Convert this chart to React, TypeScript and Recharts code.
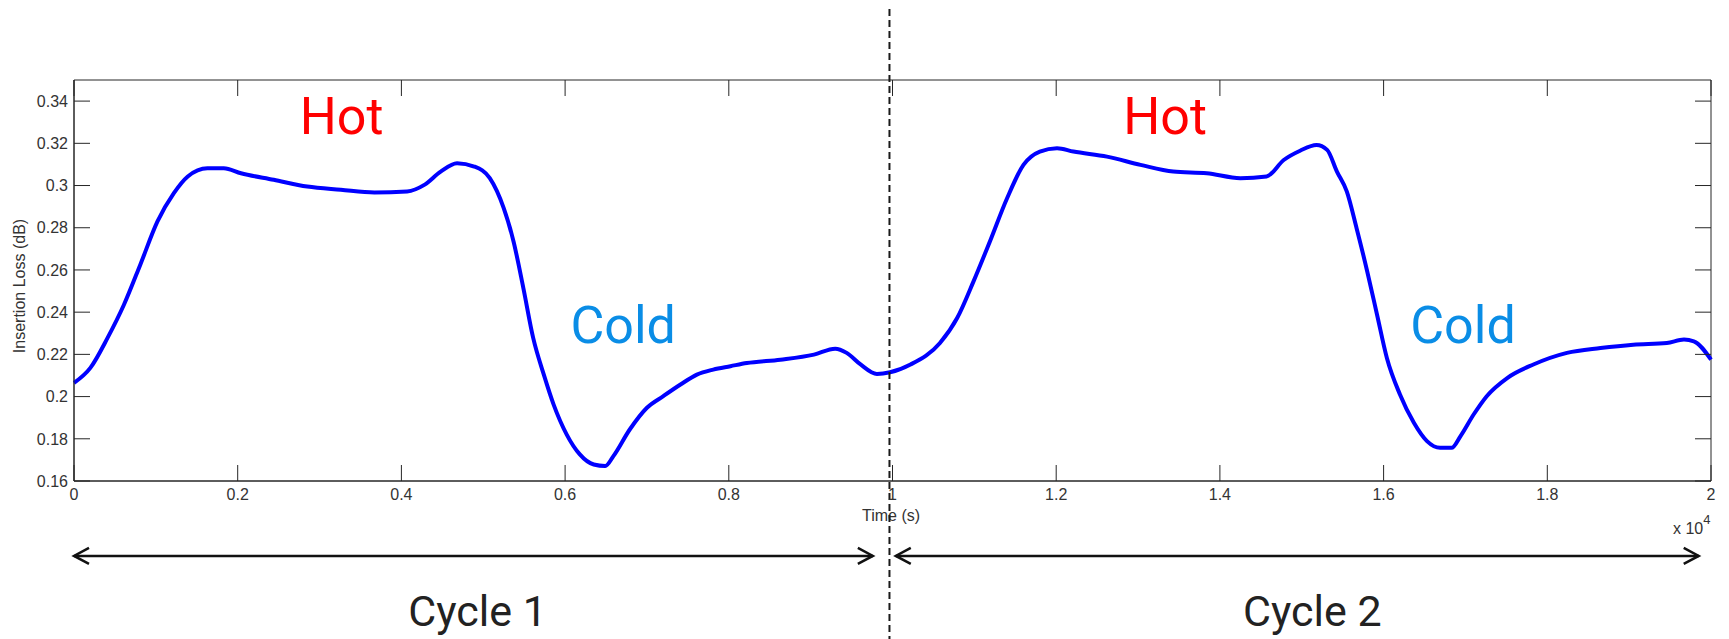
import React from "react";
import {
  LineChart,
  Line,
  XAxis,
  YAxis,
  ReferenceLine,
  ReferenceArea,
  ReferenceDot,
} from "recharts";

// time in units of 10^4 s
const timeE4 = [
  0, 0.02, 0.041, 0.061, 0.081, 0.102, 0.122, 0.139, 0.163, 0.183,
  0.204, 0.244, 0.285, 0.326, 0.367, 0.407, 0.428, 0.448, 0.468, 0.489,
  0.508, 0.525, 0.537, 0.549, 0.561, 0.574, 0.586, 0.602, 0.618, 0.635,
  0.649, 0.659, 0.679, 0.7, 0.72, 0.741, 0.761, 0.781, 0.802, 0.822,
  0.863, 0.904, 0.93, 0.944, 0.961, 0.981, 0.997, 1.022, 1.058, 1.079,
  1.099, 1.119, 1.14, 1.16, 1.18, 1.201, 1.221, 1.262, 1.303, 1.343,
  1.384, 1.425, 1.457, 1.478, 1.498, 1.518, 1.531, 1.543, 1.555, 1.567,
  1.58, 1.592, 1.604, 1.62, 1.637, 1.653, 1.669, 1.683, 1.694, 1.71,
  1.726, 1.751, 1.783, 1.824, 1.865, 1.905, 1.946, 1.967, 1.979, 2.0,
];

// insertion loss in dB
const lossDb = [
  0.2065, 0.2136, 0.2278, 0.2435, 0.2625, 0.283, 0.2964, 0.3043, 0.3082, 0.3082,
  0.3058, 0.3027, 0.2995, 0.298, 0.2967, 0.2972, 0.3003, 0.3066, 0.3106, 0.309,
  0.3035, 0.2893, 0.2735, 0.2514, 0.2278, 0.2104, 0.1962, 0.182, 0.1726, 0.1678,
  0.1671, 0.1718, 0.1844, 0.1947, 0.2002, 0.2057, 0.2104, 0.2128, 0.2144, 0.2159,
  0.2175, 0.2199, 0.2227, 0.2207, 0.2152, 0.2107, 0.2115, 0.2152, 0.2254, 0.2372,
  0.2546, 0.2735, 0.294, 0.3098, 0.3161, 0.3177, 0.3161, 0.3137, 0.3098, 0.3066,
  0.3058, 0.3035, 0.3043, 0.3121, 0.3165, 0.3192, 0.3169, 0.3066, 0.2972, 0.2798,
  0.2593, 0.2388, 0.2183, 0.201, 0.1876, 0.1789, 0.1757, 0.1757, 0.1813, 0.1915,
  0.2002, 0.2088, 0.2152, 0.2207, 0.223, 0.2246, 0.2254, 0.227, 0.2262, 0.2175,
];

const xTicks = [0, 0.2, 0.4, 0.6, 0.8, 1, 1.2, 1.4, 1.6, 1.8, 2];
const yTicks = [0.16, 0.18, 0.2, 0.22, 0.24, 0.26, 0.28, 0.3, 0.32, 0.34];

const cycleBoundary = 0.9963;
const cycleArrows = [
  { from: 0.0, to: 0.976 },
  { from: 1.004, to: 1.985 },
];
const arrowLevel = 0.1245;

const annotations = [
  { text: "Hot", t: 0.327, v: 0.3245, color: "#ff0000", size: 52 },
  { text: "Hot", t: 1.333, v: 0.3245, color: "#ff0000", size: 52 },
  { text: "Cold", t: 0.671, v: 0.2254, color: "#0a8de6", size: 52 },
  { text: "Cold", t: 1.697, v: 0.2254, color: "#0a8de6", size: 52 },
  { text: "Cycle 1", t: 0.493, v: 0.0913, color: "#222222", size: 43 },
  { text: "Cycle 2", t: 1.513, v: 0.0913, color: "#222222", size: 43 },
];

const data = timeE4.map((t, i) => ({ t, loss: lossDb[i] }));

const W = 1729;
const H = 639;
const PLOT = { left: 74, right: 1711, top: 80, bottom: 481 };
const TICK_LEN = 16;
const AXIS_COLOR = "#262626";
const TICK_FONT = "'Liberation Sans', Arial, sans-serif";

const fmt = (v: number) => String(parseFloat(v.toFixed(2)));

const XTick = ({ x, y, payload }: any) => (
  <g>
    <line x1={x} x2={x} y1={PLOT.bottom} y2={PLOT.bottom - TICK_LEN} stroke={AXIS_COLOR} />
    <line x1={x} x2={x} y1={PLOT.top} y2={PLOT.top + TICK_LEN} stroke={AXIS_COLOR} />
    <text x={x} y={y} dy="0.71em" textAnchor="middle" fontSize={16} fontFamily={TICK_FONT} fill="#333">
      {fmt(payload.value)}
    </text>
  </g>
);

const YTick = ({ x, y, payload }: any) => (
  <g>
    <line x1={PLOT.left} x2={PLOT.left + TICK_LEN} y1={y} y2={y} stroke={AXIS_COLOR} />
    <line x1={PLOT.right - TICK_LEN} x2={PLOT.right} y1={y} y2={y} stroke={AXIS_COLOR} />
    <text x={x} y={y} dy="0.36em" textAnchor="end" fontSize={16} fontFamily={TICK_FONT} fill="#333">
      {fmt(payload.value)}
    </text>
  </g>
);

const DoubleArrow = (p: any) => {
  const { x1, y1, x2, y2 } = p;
  const head = 15;
  const half = 8;
  return (
    <g stroke="#111" strokeWidth={2.5} fill="none">
      <line x1={x1} y1={y1} x2={x2} y2={y2} />
      <polyline points={`${x1 + head},${y1 - half} ${x1},${y1} ${x1 + head},${y1 + half}`} />
      <polyline points={`${x2 - head},${y2 - half} ${x2},${y2} ${x2 - head},${y2 + half}`} />
    </g>
  );
};

export default function App() {
  return (
    <div style={{ position: "absolute", left: 0, top: 0, width: W, height: H, background: "#fff" }}>
      <LineChart
        width={W}
        height={H}
        data={data}
        margin={{ top: PLOT.top, right: W - PLOT.right, bottom: H - PLOT.bottom - 30, left: 0 }}
      >
        <XAxis
          dataKey="t"
          type="number"
          domain={[0, 2]}
          ticks={xTicks}
          interval={0}
          height={30}
          tickSize={0}
          tickMargin={8}
          tickLine={false}
          axisLine={{ stroke: AXIS_COLOR }}
          tick={<XTick />}
        />
        <YAxis
          type="number"
          domain={[0.16, 0.35]}
          ticks={yTicks}
          interval={0}
          width={PLOT.left}
          tickSize={0}
          tickMargin={6}
          tickLine={false}
          axisLine={{ stroke: AXIS_COLOR }}
          tick={<YTick />}
        />
        <ReferenceArea x1={0} x2={2} y1={0.16} y2={0.35} fill="none" stroke={AXIS_COLOR} strokeWidth={1} />
        <Line
          type="monotone"
          dataKey="loss"
          stroke="#0000ff"
          strokeWidth={4}
          dot={false}
          isAnimationActive={false}
        />
        <ReferenceLine
          segment={[
            { x: cycleBoundary, y: 0.3837 },
            { x: cycleBoundary, y: 0.0851 },
          ]}
          ifOverflow="visible"
          stroke="#1a1a1a"
          strokeWidth={2}
          strokeDasharray="7 4"
        />
        {cycleArrows.map((a, i) => (
          <ReferenceLine
            key={i}
            segment={[
              { x: a.from, y: arrowLevel },
              { x: a.to, y: arrowLevel },
            ]}
            ifOverflow="visible"
            shape={DoubleArrow}
          />
        ))}
        {annotations.map((a, i) => (
          <ReferenceDot
            key={`a${i}`}
            x={a.t}
            y={a.v}
            r={0}
            ifOverflow="visible"
            shape={(p: any) => (
              <text
                x={p.cx}
                y={p.cy}
                textAnchor="middle"
                fontSize={a.size}
                fontFamily="Roboto, 'Noto Sans', sans-serif"
                fill={a.color}
              >
                {a.text}
              </text>
            )}
          />
        ))}
        <text
          x={19}
          y={286}
          transform="rotate(-90 19 286)"
          textAnchor="middle"
          dy="0.36em"
          fontSize={16}
          fontFamily={TICK_FONT}
          fill="#333"
        >
          Insertion Loss (dB)
        </text>
        <text x={891} y={521} textAnchor="middle" fontSize={16} fontFamily={TICK_FONT} fill="#333">
          Time (s)
        </text>
        <text x={1673} y={534} fontSize={16} fontFamily={TICK_FONT} fill="#333">
          x 10
          <tspan dy={-10} fontSize={13}>
            4
          </tspan>
        </text>
      </LineChart>
    </div>
  );
}
